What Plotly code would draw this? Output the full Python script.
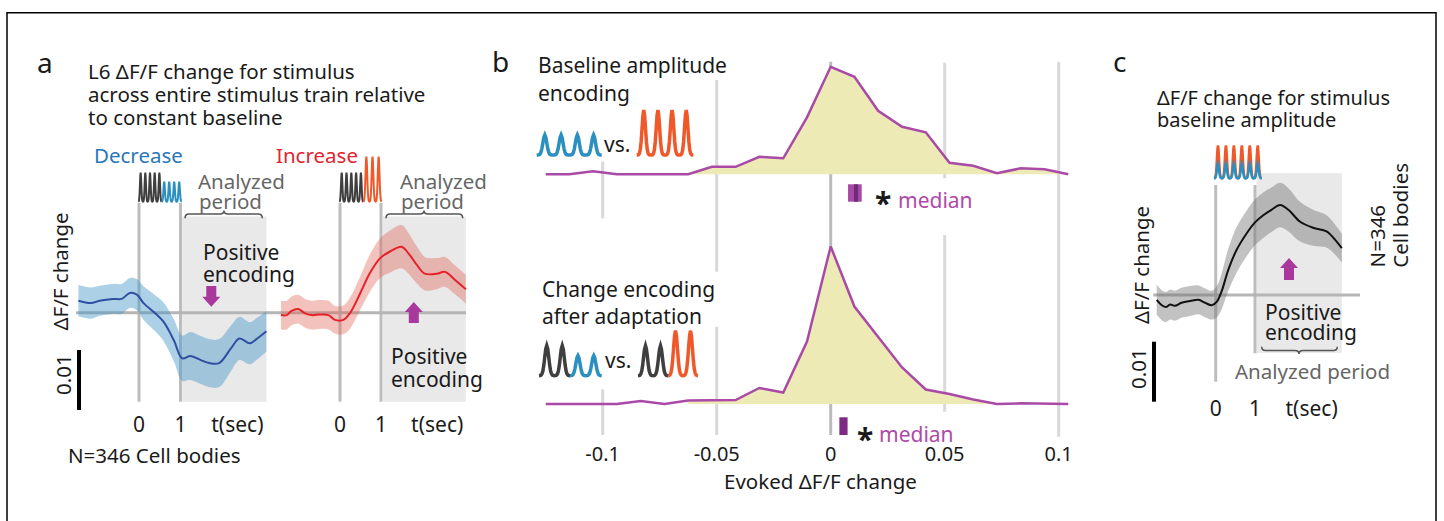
import math
import plotly.graph_objects as go

W, H = 1444, 521
FONT = "Noto Sans"


def PX(x):
    return x / W


def PY(y):
    return 1 - y / H


# ------------------------------------------------------------------ data
# Panel a: "Decrease" condition (mean dF/F change and s.e.m.)
dec_t = [-1.46, -1.16, -0.95, -0.63, -0.42, -0.22, -0.05, 0.11, 0.39, 0.59, 0.84,
         1.04, 1.24, 1.49, 1.69, 1.93, 2.22, 2.42, 2.67, 2.83, 3.07]
dec_mean = [0.0020, 0.0016, 0.0020, 0.0023, 0.0023, 0.0033, 0.0030, 0.0016, -0.0001,
            -0.0015, -0.0046, -0.0076, -0.0072, -0.0079, -0.0084, -0.0084, -0.0059,
            -0.0043, -0.0051, -0.0044, -0.0031]
dec_sem = [0.0026, 0.0026, 0.0025, 0.0025, 0.0025, 0.0025, 0.0026, 0.0028, 0.0030,
           0.0032, 0.0035, 0.0038, 0.0040, 0.0040, 0.0040, 0.0040, 0.0038, 0.0036,
           0.0035, 0.0035, 0.0034]

# Panel a: "Increase" condition
inc_t = [-1.44, -1.30, -1.18, -1.02, -0.85, -0.69, -0.49, -0.28, -0.12, 0.08, 0.24,
         0.49, 0.73, 0.98, 1.22, 1.50, 1.67, 1.87, 2.07, 2.36, 2.56, 2.80, 3.07]
inc_mean = [-0.0004, -0.0004, 0.0003, 0.0006, -0.0001, -0.0004, -0.0003, -0.0004,
            -0.0012, -0.0012, -0.0001, 0.0032, 0.0066, 0.0091, 0.0102, 0.0110, 0.0099,
            0.0080, 0.0065, 0.0065, 0.0068, 0.0055, 0.0039]
inc_sem = [0.0024, 0.0024, 0.0024, 0.0024, 0.0024, 0.0024, 0.0024, 0.0024, 0.0023,
           0.0024, 0.0026, 0.0028, 0.0031, 0.0033, 0.0035, 0.0036, 0.0034, 0.0031,
           0.0028, 0.0026, 0.0025, 0.0024, 0.0024]

# Panel b: histograms of evoked dF/F change (fraction of cells per bin)
bin_centers = [-0.125, -0.1146, -0.1042, -0.0938, -0.0833, -0.0729, -0.0625, -0.0521,
               -0.0417, -0.0313, -0.0208, -0.0104, 0.0, 0.0104, 0.0208, 0.0313, 0.0417,
               0.0521, 0.0625, 0.0729, 0.0833, 0.0938, 0.1042]
hist_baseline = [0, 0, 0.006, 0, 0, 0, 0, 0.015, 0.015, 0.035, 0.032, 0.114, 0.215,
                 0.195, 0.127, 0.095, 0.084, 0.023, 0.017, 0.002, 0.012, 0.010, 0]
hist_change = [0, 0, 0, 0, 0.006, 0, 0.007, 0.008, 0.008, 0.032, 0.023, 0.125, 0.315,
               0.195, 0.135, 0.073, 0.029, 0.020, 0.009, 0, 0.0014, 0.0014, 0]
median_baseline = 0.0106
median_change = 0.0056
b_tick_vals = [-0.1, -0.05, 0, 0.05, 0.1]
b_tick_text = ["-0.1", "-0.05", "0", "0.05", "0.1"]

# Panel c: dF/F change for stimulus baseline amplitude
c_t = [-1.50, -1.37, -1.26, -1.16, -1.04, -0.87, -0.65, -0.44, -0.27, -0.10, 0.03, 0.15,
       0.32, 0.53, 0.79, 1.00, 1.21, 1.42, 1.64, 1.85, 2.15, 2.48, 2.82, 3.04, 3.21]
c_mean = [-0.0008, -0.0017, -0.0020, -0.0016, -0.0018, -0.0013, -0.0010, -0.0008,
          -0.0013, -0.0017, -0.0011, 0.0006, 0.0042, 0.0075, 0.0103, 0.0121, 0.0133,
          0.0142, 0.0150, 0.0142, 0.0122, 0.0112, 0.0106, 0.0092, 0.0078]
c_sem = [0.0025, 0.0025, 0.0025, 0.0025, 0.0025, 0.0025, 0.0025, 0.0024, 0.0024, 0.0024,
         0.0026, 0.0030, 0.0035, 0.0038, 0.0038, 0.0038, 0.0038, 0.0037, 0.0037, 0.0036,
         0.0033, 0.0030, 0.0027, 0.0025, 0.0024]

t_tick_vals_a = [0, 1, 2.37]
t_tick_vals_c = [0, 1, 2.44]
t_tick_text = ["0", "1", "t(sec)"]

# ------------------------------------------------------------------ styles
BLUE_LINE = "#2f4fa3"
BLUE_BAND = "rgba(70,150,200,0.45)"
RED_LINE = "#e8202a"
RED_BAND = "rgba(225,95,80,0.38)"
BLACK_LINE = "#111111"
GRAY_BAND = "rgba(110,110,110,0.42)"
PURPLE = "#a94aa6"
YELLOW = "#eeeab6"
MAGENTA = "#a8389c"
GRID = "#bdbdbd"
SHADE = "#e9e9e9"

fig = go.Figure()


def band(x, m, s, xa, ya, color):
    up = [a + b for a, b in zip(m, s)]
    lo = [a - b for a, b in zip(m, s)]
    fig.add_trace(go.Scatter(x=x, y=up, mode="lines", line=dict(width=0, shape="spline"),
                             xaxis=xa, yaxis=ya, hoverinfo="skip"))
    fig.add_trace(go.Scatter(x=x, y=lo, mode="lines", line=dict(width=0, shape="spline"),
                             fill="tonexty", fillcolor=color, xaxis=xa, yaxis=ya,
                             hoverinfo="skip"))


band(dec_t, dec_mean, dec_sem, "x", "y", BLUE_BAND)
fig.add_trace(go.Scatter(x=dec_t, y=dec_mean, mode="lines",
                         line=dict(color=BLUE_LINE, width=2, shape="spline"),
                         xaxis="x", yaxis="y"))
band(inc_t, inc_mean, inc_sem, "x2", "y2", RED_BAND)
fig.add_trace(go.Scatter(x=inc_t, y=inc_mean, mode="lines",
                         line=dict(color=RED_LINE, width=2, shape="spline"),
                         xaxis="x2", yaxis="y2"))

# histograms
for vals, xa, ya in [(hist_baseline, "x3", "y3"), (hist_change, "x4", "y4")]:
    fig.add_trace(go.Scatter(x=bin_centers[6:], y=vals[6:], mode="lines",
                             line=dict(width=0), fill="tozeroy", fillcolor=YELLOW,
                             xaxis=xa, yaxis=ya))
    fig.add_trace(go.Scatter(x=bin_centers, y=vals, mode="lines",
                             line=dict(color=PURPLE, width=2.5),
                             xaxis=xa, yaxis=ya))

band(c_t, c_mean, c_sem, "x5", "y5", GRAY_BAND)
fig.add_trace(go.Scatter(x=c_t, y=c_mean, mode="lines",
                         line=dict(color=BLACK_LINE, width=2, shape="spline"),
                         xaxis="x5", yaxis="y5"))

# ------------------------------------------------------------------ axes
def xrange(p_lo, p_hi, p0, s):
    return [(p_lo - p0) / s, (p_hi - p0) / s]


hidden = dict(visible=False, showgrid=False, zeroline=False)
tick_axis = dict(showgrid=False, zeroline=False, showline=False, ticks="",
                 ticklabelstandoff=0,
                 tickfont=dict(family=FONT, size=21, color="#1a1a1a"))

A_Y0, A_S = 312.7, 6000.0
A_BOT = 410
a_yrange = [(A_Y0 - A_BOT) / A_S, (A_Y0 - 165) / A_S]
C_Y0, C_BOT = 295.0, 394
c_yrange = [(C_Y0 - C_BOT) / A_S, (C_Y0 - 165) / A_S]
B_X0, B_S = 830.7, 2280.0
b_xrange = xrange(540, 1075, B_X0, B_S)
B_BOT = 440

fig.update_layout(
    xaxis=dict(domain=[PX(76), PX(268)], range=xrange(76, 268, 139, 41.5), anchor="y",
               tickvals=t_tick_vals_a, ticktext=t_tick_text, **tick_axis),
    yaxis=dict(domain=[PY(A_BOT), PY(165)], range=a_yrange, anchor="x", **hidden),
    xaxis2=dict(domain=[PX(276), PX(470)], range=xrange(276, 470, 340, 41), anchor="y2",
                tickvals=t_tick_vals_a, ticktext=t_tick_text, **tick_axis),
    yaxis2=dict(domain=[PY(A_BOT), PY(165)], range=a_yrange, anchor="x2", **hidden),
    xaxis3=dict(domain=[PX(540), PX(1075)], range=b_xrange, anchor="y3", **hidden),
    yaxis3=dict(domain=[PY(184), PY(56)], range=[(174.3 - 184) * 0.002, (174.3 - 56) * 0.002],
                anchor="x3", **hidden),
    xaxis4=dict(domain=[PX(540), PX(1075)], range=b_xrange, anchor="y4",
                tickvals=b_tick_vals, ticktext=b_tick_text, **tick_axis),
    yaxis4=dict(domain=[PY(B_BOT), PY(236)], range=[(404 - B_BOT) * 0.002, (404 - 236) * 0.002],
                anchor="x4", **hidden),
    xaxis5=dict(domain=[PX(1150), PX(1352)], range=xrange(1150, 1352, 1215.7, 39.3), anchor="y5",
                tickvals=t_tick_vals_c, ticktext=t_tick_text, **tick_axis),
    yaxis5=dict(domain=[PY(C_BOT), PY(165)], range=c_yrange, anchor="x5", **hidden),
)
fig.update_layout(xaxis4_tickfont_size=20)

# ------------------------------------------------------------------ shapes
shapes = []


def vline(xref, x, ytop, ybot, color=GRID, width=3):
    shapes.append(dict(type="line", xref=xref, yref="paper", x0=x, x1=x,
                       y0=PY(ybot), y1=PY(ytop), line=dict(color=color, width=width),
                       layer="below"))


# panel a shading + guide lines
shapes.append(dict(type="rect", xref="x", yref="paper", x0=1.04, x1=dec_t[-1],
                   y0=PY(401.7), y1=PY(216.5), fillcolor=SHADE, line=dict(width=0), layer="below"))
shapes.append(dict(type="rect", xref="x2", yref="paper", x0=1.05, x1=inc_t[-1],
                   y0=PY(401.7), y1=PY(216.5), fillcolor=SHADE, line=dict(width=0), layer="below"))
for xr in ["x", "x2"]:
    vline(xr, 0, 203, 401.7)
    vline(xr, 1, 203, 401.7)
shapes.append(dict(type="line", xref="paper", yref="y", x0=PX(76), x1=PX(466), y0=0, y1=0,
                   line=dict(color="#b5b5b5", width=3), layer="below"))

# panel b grid segments
LG = "#d9d9d9"
for x, segs, col in [(-0.1, [(161.7, 218.3), (389.3, 435)], LG),
                     (-0.05, [(80, 271.7), (326.7, 435)], LG),
                     (0.0, [(61.7, 435)], "#bcbcbc"),
                     (0.05, [(62.7, 178.3), (235, 411.7)], LG),
                     (0.1, [(61.7, 436.7)], LG)]:
    for a, b in segs:
        vline("x4", x, a, b, color=col, width=3)

# median markers
shapes.append(dict(type="rect", xref="x3", yref="paper", x0=median_baseline - 0.003,
                   x1=median_baseline + 0.003, y0=PY(201.7), y1=PY(184.3),
                   fillcolor="#a94aa6", line=dict(width=0)))
shapes.append(dict(type="rect", xref="x3", yref="paper", x0=median_baseline - 0.0004,
                   x1=median_baseline + 0.0014, y0=PY(201.7), y1=PY(184.3),
                   fillcolor="#6f2a78", line=dict(width=0)))
shapes.append(dict(type="rect", xref="x4", yref="paper", x0=median_change - 0.0018,
                   x1=median_change + 0.0018, y0=PY(435), y1=PY(417.3),
                   fillcolor="#7d2a82", line=dict(width=0)))

# panel c shading + guide lines
shapes.append(dict(type="rect", xref="x5", yref="paper", x0=1.04, x1=c_t[-1],
                   y0=PY(353), y1=PY(173.3), fillcolor=SHADE, line=dict(width=0), layer="below"))
vline("x5", 0, 185, 381.7)
vline("x5", 1, 185, 353.3)
shapes.append(dict(type="line", xref="paper", yref="y5", x0=PX(1153.3), x1=PX(1360), y0=0, y1=0,
                   line=dict(color="#b5b5b5", width=3), layer="below"))

# scale bars (0.01 dF/F)
shapes.append(dict(type="line", xref="paper", yref="paper", x0=PX(79), x1=PX(79),
                   y0=PY(410), y1=PY(350), line=dict(color="black", width=4)))
shapes.append(dict(type="line", xref="paper", yref="paper", x0=PX(1154), x1=PX(1154),
                   y0=PY(401.7), y1=PY(341.7), line=dict(color="black", width=4)))


def pathstr(pts, close=False):
    s = "M " + " L ".join(f"{PX(x):.5f},{PY(y):.5f}" for x, y in pts)
    return s + (" Z" if close else "")


def pulses(x0, x1, n, base, h, color, width, sig=0.14, m=16):
    per = (x1 - x0) / n
    pts = []
    for i in range(n):
        for j in range(m + 1 if i == n - 1 else m):
            u = j / m
            pts.append((x0 + (i + u) * per, base - h * math.exp(-0.5 * ((u - 0.5) / sig) ** 2)))
    shapes.append(dict(type="path", xref="paper", yref="paper", path=pathstr(pts),
                       line=dict(color=color, width=width)))


DK = "#3f3f3f"
SB = "#2b90c0"
OR = "#f0582a"
# panel a icons
pulses(138.3, 161.7, 5, 201.7, 29, DK, 2)
pulses(161.7, 181.7, 4, 201.7, 20, SB, 2)
pulses(339.3, 363.3, 5, 201.7, 29, DK, 2)
pulses(363.3, 381.7, 3, 201.7, 45, OR, 2)
# panel b icons
pulses(536.7, 601.7, 4, 155, 20, SB, 3.5, sig=0.12)
pulses(636.7, 693.3, 4, 155, 45, OR, 3.5, sig=0.12)
pulses(539, 570, 2, 375.7, 30, DK, 3.5, sig=0.13)
pulses(570, 601.7, 2, 375.7, 20, SB, 3.5, sig=0.13)
pulses(638, 668, 2, 375.7, 30, DK, 3.5, sig=0.13)
pulses(668, 698, 2, 375.7, 45, OR, 3.5, sig=0.13)
# panel c icon
pulses(1214, 1261.7, 6, 178.3, 33, OR, 2.5, sig=0.13)
pulses(1214, 1261.7, 6, 178.3, 15, SB, 2.5, sig=0.13)


def arrow(cx, y_tail, y_head, shaft=10, head=18, head_len=10):
    d = 1 if y_head > y_tail else -1
    yb = y_head - d * head_len
    pts = [(cx - shaft / 2, y_tail), (cx + shaft / 2, y_tail), (cx + shaft / 2, yb),
           (cx + head / 2, yb), (cx, y_head), (cx - head / 2, yb), (cx - shaft / 2, yb)]
    shapes.append(dict(type="path", xref="paper", yref="paper", path=pathstr(pts, True),
                       fillcolor=MAGENTA, line=dict(width=0)))


arrow(211.3, 286, 306.7)
arrow(413.8, 323, 302)
arrow(1289, 280, 258)


def brace(x0, x1, xm, y_end, y_line, y_tip, r=4):
    def p(x, y):
        return f"{PX(x):.5f},{PY(y):.5f}"
    path = (f"M {p(x0, y_end)} Q {p(x0, y_line)} {p(x0 + r, y_line)} L {p(xm - r, y_line)} "
            f"Q {p(xm, y_line)} {p(xm, y_tip)} Q {p(xm, y_line)} {p(xm + r, y_line)} "
            f"L {p(x1 - r, y_line)} Q {p(x1, y_line)} {p(x1, y_end)}")
    shapes.append(dict(type="path", xref="paper", yref="paper", path=path,
                       line=dict(color="#555555", width=1.5)))


brace(185, 262.3, 224, 218.3, 214, 210.5)
brace(386, 462.7, 424, 218.3, 214, 210.5)
brace(1261.7, 1337.3, 1299, 346.7, 350.5, 354)

# frame
shapes.append(dict(type="rect", xref="paper", yref="paper", x0=PX(7), x1=PX(1436),
                   y0=PY(560), y1=PY(12.7), line=dict(color="black", width=1.5),
                   fillcolor="rgba(0,0,0,0)"))

fig.update_layout(shapes=shapes)

# ------------------------------------------------------------------ text
ann = []
LPAD = 1  # annotation inner padding compensation for left-anchored text


def T(text, x, y, size=20, color="#1a1a1a", xa="center", angle=0, bold=False):
    if bold:
        text = f"<b>{text}</b>"
    if xa == "left":
        x -= LPAD
    ann.append(dict(text=text, x=PX(x), y=PY(y), xref="paper", yref="paper", showarrow=False,
                    xanchor=xa, yanchor="middle", textangle=angle, borderpad=0,
                    font=dict(family=FONT, size=size, color=color)))


GRAYTXT = "#666666"
MEDTXT = "#b04aa8"
# panel a
T("a", 45.5, 61.6, 28)
T("L6 ΔF/F change for stimulus", 88.3, 71.2, 20.5, xa="left")
T("across entire stimulus train relative", 88.3, 94, 20.5, xa="left")
T("to constant baseline", 88.3, 117.3, 20.5, xa="left")
T("Decrease", 138.3, 154.5, 20.5, "#2a77b8")
T("Increase", 316.7, 154.5, 20.5, "#e0262e")
T("Analyzed", 198.3, 181, 20.5, GRAYTXT, "left")
T("period", 199, 200.5, 20.5, GRAYTXT, "left")
T("Analyzed", 400, 181, 20.5, GRAYTXT, "left")
T("period", 401, 200.5, 20.5, GRAYTXT, "left")
T("Positive", 203, 252, 21, xa="left")
T("encoding", 203, 274, 21, xa="left")
T("Positive", 390.7, 355.5, 21, xa="left")
T("encoding", 390.7, 378.7, 21, xa="left")
T("N=346 Cell bodies", 154, 455, 20.5)
T("ΔF/F change", 59.5, 272, 20.5, angle=-90)
T("0.01", 63, 375, 20.5, angle=-90)
# panel b
T("b", 500, 61, 28)
T("Baseline amplitude", 538.3, 65.4, 21, xa="left")
T("encoding", 538.3, 93, 21, xa="left")
T("vs.", 616.5, 143.7, 21)
T("Change encoding", 541.7, 288.7, 21, xa="left")
T("after adaptation", 541.7, 316.4, 21, xa="left")
T("vs.", 617.5, 360.4, 21)
T("*", 883.3, 203, 30, bold=True)
T("median", 897.5, 200.4, 21, MEDTXT, "left")
T("*", 865, 438, 30, bold=True)
T("median", 879, 434.4, 21, MEDTXT, "left")
T("Evoked ΔF/F change", 820, 480.7, 20.5)
# panel c
T("c", 1119, 61, 28)
T("ΔF/F change for stimulus", 1156.7, 97.3, 20, xa="left")
T("baseline amplitude", 1156.7, 119, 20, xa="left")
T("Positive", 1265, 312, 21, xa="left")
T("encoding", 1265, 332.3, 21, xa="left")
T("Analyzed period", 1312.5, 370.5, 20.5, GRAYTXT)
T("N=346", 1376.7, 236.7, 20.5, angle=-90)
T("Cell bodies", 1400, 215.7, 20.5, angle=-90)
T("ΔF/F change", 1141, 265, 20.5, angle=-90)
T("0.01", 1138, 369, 20.5, angle=-90)

fig.update_layout(
    annotations=ann,
    width=W, height=H, margin=dict(l=0, r=0, t=0, b=0),
    paper_bgcolor="white", plot_bgcolor="rgba(0,0,0,0)",
    showlegend=False,
    font=dict(family=FONT, color="#1a1a1a"),
)

fig.write_html("out.html")
